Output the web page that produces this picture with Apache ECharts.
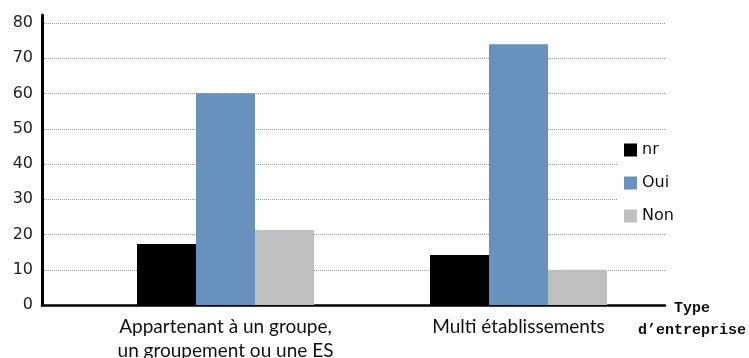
<!DOCTYPE html>
<html>
<head>
<meta charset="utf-8">
<script src="https://cdn.jsdelivr.net/npm/echarts@6/dist/echarts.min.js"></script>
<style>
html,body{margin:0;padding:0;background:#fff;}
#chart{width:749px;height:358px;}
</style>
</head>
<body>
<div id="chart"></div>
<script>
var categories = ['Appartenant à un groupe,\nun groupement ou une ES', 'Multi établissements'];
var seriesNames = ['nr', 'Oui', 'Non'];
var nrValues = [17.3, 14.2];
var ouiValues = [60.1, 74.0];
var nonValues = [21.3, 10.0];
var yTicks = [0, 10, 20, 30, 40, 50, 60, 70, 80];

var colors = ['#000000', '#6792bd', '#bebfc1'];
var axisFont = 'DejaVu Sans';

var myChart = echarts.init(document.getElementById('chart'));
var option = {
    animation: false,
    backgroundColor: '#fff',
    grid: [
        // gridlines + y labels + x axis line
        {left: 42, right: 84, top: 23, bottom: 53, outerBoundsMode: 'none', containLabel: false},
        // y axis line, reaches a bit above 80
        {left: 42, right: 84, top: 15, bottom: 53, outerBoundsMode: 'none', containLabel: false},
        // bars
        {left: 79, right: 84, top: 23, bottom: 53, outerBoundsMode: 'none', containLabel: false}
    ],
    legend: {
        orient: 'vertical',
        left: 618,
        top: 136,
        padding: [6, 14, 6, 6],
        backgroundColor: '#fff',
        icon: 'rect',
        itemWidth: 13,
        itemHeight: 13,
        itemGap: 17,
        data: seriesNames,
        textStyle: {fontFamily: axisFont, fontSize: 16, color: '#111', lineHeight: 13}
    },
    xAxis: [
        {
            gridIndex: 0, type: 'value', min: 0, max: 1,
            axisLine: {show: true, lineStyle: {color: '#000', width: 2.5}},
            axisTick: {show: false}, axisLabel: {show: false}, splitLine: {show: false}
        },
        {
            gridIndex: 1, type: 'value', min: 0, max: 1, show: false
        },
        {
            gridIndex: 2, type: 'category', data: categories,
            axisLine: {show: false}, axisTick: {show: false},
            axisLabel: {
                margin: 10, fontFamily: 'Lato', fontSize: 19, color: '#111', lineHeight: 24
            }
        }
    ],
    yAxis: [
        {
            gridIndex: 0, type: 'value', min: yTicks[0], max: yTicks[yTicks.length - 1], interval: 10,
            axisLine: {show: false}, axisTick: {show: false},
            axisLabel: {margin: 9, fontFamily: axisFont, fontSize: 16, color: '#222'},
            splitLine: {show: true, lineStyle: {color: '#999', type: 'dotted', width: 1}}
        },
        {
            gridIndex: 1, type: 'value', min: 0, max: 1,
            axisLine: {show: true, lineStyle: {color: '#000', width: 3}},
            axisTick: {show: false}, axisLabel: {show: false}, splitLine: {show: false}
        },
        {
            gridIndex: 2, type: 'value', min: 0, max: 80, show: false
        }
    ],
    graphic: [
        {
            type: 'text',
            x: 692,
            y: 297,
            style: {
                text: 'Type\nd\u2019entreprise',
                fontFamily: 'Liberation Mono',
                fontWeight: 'bold',
                fontSize: 15,
                lineHeight: 22,
                fill: '#111',
                align: 'center',
                verticalAlign: 'top'
            }
        }
    ],
    series: [
        {name: seriesNames[0], type: 'bar', xAxisIndex: 2, yAxisIndex: 2, data: nrValues,
            barWidth: 59, barGap: '0%', itemStyle: {color: colors[0]}},
        {name: seriesNames[1], type: 'bar', xAxisIndex: 2, yAxisIndex: 2, data: ouiValues,
            barWidth: 59, barGap: '0%', itemStyle: {color: colors[1]}},
        {name: seriesNames[2], type: 'bar', xAxisIndex: 2, yAxisIndex: 2, data: nonValues,
            barWidth: 59, barGap: '0%', itemStyle: {color: colors[2]}}
    ]
};
myChart.setOption(option);
window.onresize = myChart.resize;
</script>
</body>
</html>
